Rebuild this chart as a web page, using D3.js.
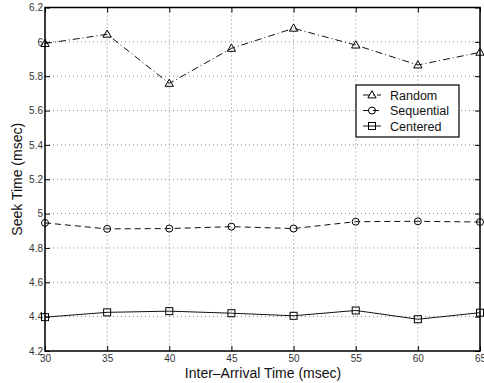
<!DOCTYPE html>
<html>
<head>
<meta charset="utf-8">
<script src="https://cdn.jsdelivr.net/npm/d3@7"></script>
<style>
  body { margin: 0; background: #fff; }
  text { font-family: "Liberation Sans", Arial, sans-serif; }
</style>
</head>
<body>
<div id="chart"></div>
<script>
// data
const arrival = [30, 35, 40, 45, 50, 55, 60, 65];
const randomSeek = [5.99, 6.044, 5.758, 5.962, 6.079, 5.981, 5.865, 5.939];
const sequentialSeek = [4.946, 4.911, 4.913, 4.924, 4.913, 4.953, 4.955, 4.951];
const centeredSeek = [4.397, 4.425, 4.432, 4.42, 4.405, 4.436, 4.385, 4.423];
const yTicks = [4.2, 4.4, 4.6, 4.8, 5, 5.2, 5.4, 5.6, 5.8, 6, 6.2];

const W = 484, H = 383;
const margin = { top: 7.5, right: 4, bottom: 32, left: 45 };
const width = W - margin.left - margin.right;
const height = H - margin.top - margin.bottom;

const svg = d3.select("#chart")
  .append("svg")
  .attr("width", W)
  .attr("height", H);

const g = svg.append("g")
  .attr("transform", `translate(${margin.left},${margin.top})`);

const x = d3.scaleLinear().domain([30, 65]).range([0, width]);
const y = d3.scaleLinear().domain([4.2, 6.2]).range([height, 0]);

// dotted grid
g.append("g")
  .selectAll("line")
  .data(arrival)
  .join("line")
  .attr("x1", (d) => x(d)).attr("x2", (d) => x(d))
  .attr("y1", 0).attr("y2", height)
  .attr("stroke", "#888")
  .attr("stroke-width", 1)
  .attr("stroke-dasharray", "1,3");

g.append("g")
  .selectAll("line")
  .data(yTicks)
  .join("line")
  .attr("x1", 0).attr("x2", width)
  .attr("y1", (d) => y(d)).attr("y2", (d) => y(d))
  .attr("stroke", "#888")
  .attr("stroke-width", 1)
  .attr("stroke-dasharray", "1,3");

// axes, ticks inward (both sides)
const fmt = (d) => d3.format("~g")(d);
g.append("g")
  .attr("transform", `translate(0,${height})`)
  .call(d3.axisBottom(x).tickValues(arrival).tickSize(-5).tickPadding(4).tickFormat(fmt))
  .call((a) => a.select(".domain").remove());
g.append("g")
  .call(d3.axisTop(x).tickValues(arrival).tickSize(-5).tickFormat(""))
  .call((a) => a.select(".domain").remove());
g.append("g")
  .call(d3.axisLeft(y).tickValues(yTicks).tickSize(-5).tickPadding(2).tickFormat(fmt))
  .call((a) => a.select(".domain").remove());
g.append("g")
  .attr("transform", `translate(${width},0)`)
  .call(d3.axisRight(y).tickValues(yTicks).tickSize(-5).tickFormat(""))
  .call((a) => a.select(".domain").remove());

g.selectAll(".tick text")
  .attr("font-size", 10)
  .attr("fill", "#333");
g.selectAll(".tick line").attr("stroke", "#000");

// frame
g.append("rect")
  .attr("width", width)
  .attr("height", height)
  .attr("fill", "none")
  .attr("stroke", "#000")
  .attr("stroke-width", 1.5);

const series = [
  { name: "Random", values: randomSeek, dash: "7,3,1,3", marker: "triangle" },
  { name: "Sequential", values: sequentialSeek, dash: "6,4", marker: "circle" },
  { name: "Centered", values: centeredSeek, dash: null, marker: "square" }
];

const line = d3.line()
  .x((d, i) => x(arrival[i]))
  .y((d) => y(d));

function drawMarker(sel, type, cx, cy) {
  if (type === "triangle") {
    sel.append("path")
      .attr("d", d3.symbol(d3.symbolTriangle, 30)())
      .attr("transform", `translate(${cx},${cy + 0.5})`)
      .attr("fill", "none").attr("stroke", "#000").attr("stroke-width", 1);
  } else if (type === "circle") {
    sel.append("circle")
      .attr("cx", cx).attr("cy", cy).attr("r", 3.5)
      .attr("fill", "none").attr("stroke", "#000").attr("stroke-width", 1);
  } else {
    sel.append("rect")
      .attr("x", cx - 3.5).attr("y", cy - 3.5)
      .attr("width", 7).attr("height", 7)
      .attr("fill", "none").attr("stroke", "#000").attr("stroke-width", 1);
  }
}

series.forEach((s) => {
  g.append("path")
    .datum(s.values)
    .attr("fill", "none")
    .attr("stroke", "#111")
    .attr("stroke-width", 1)
    .attr("stroke-dasharray", s.dash)
    .attr("d", line);
  const mk = g.append("g");
  s.values.forEach((v, i) => drawMarker(mk, s.marker, x(arrival[i]), y(v)));
});

// legend
const lg = svg.append("g").attr("transform", "translate(356,85)");
lg.append("rect")
  .attr("width", 103).attr("height", 52)
  .attr("fill", "#fff").attr("stroke", "#000").attr("stroke-width", 1.2);
series.forEach((s, i) => {
  const ly = 10 + i * 15.5;
  lg.append("line")
    .attr("x1", 7).attr("x2", 25)
    .attr("y1", ly).attr("y2", ly)
    .attr("stroke", "#111")
    .attr("stroke-dasharray", s.dash);
  drawMarker(lg, s.marker, 16, ly);
  lg.append("text")
    .attr("x", 34).attr("y", ly + 4.5)
    .attr("font-size", 12.5)
    .attr("fill", "#111")
    .text(s.name);
});

// axis titles
svg.append("text")
  .attr("x", 263)
  .attr("y", 378)
  .attr("text-anchor", "middle")
  .attr("font-size", 14)
  .attr("fill", "#111")
  .text("Inter\u2013Arrival Time (msec)");

svg.append("text")
  .attr("transform", `translate(22,${margin.top + height / 2}) rotate(-90)`)
  .attr("text-anchor", "middle")
  .attr("font-size", 14)
  .attr("fill", "#111")
  .text("Seek Time (msec)");
</script>
</body>
</html>
